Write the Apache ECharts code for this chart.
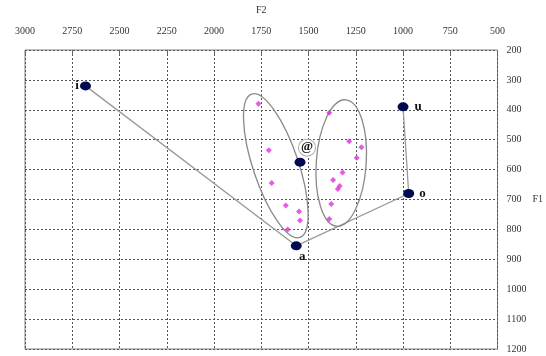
<!DOCTYPE html>
<html>
<head>
<meta charset="utf-8">
<script src="https://cdn.jsdelivr.net/npm/echarts@6/dist/echarts.min.js"></script>
<style>html,body{margin:0;padding:0;background:#fff;}#c{width:546px;height:356px;}</style>
</head>
<body>
<div id="c"></div>
<script>
// Axis ticks
const f2Ticks = [500, 750, 1000, 1250, 1500, 1750, 2000, 2250, 2500, 2750, 3000];
const f1Ticks = [200, 300, 400, 500, 600, 700, 800, 900, 1000, 1100, 1200];

// Reference vowels
const vowelLabels = ['i', 'u', 'o', 'a', '@'];
const vowelF2 = [2680, 1000, 970, 1565, 1545];
const vowelF1 = [320, 390, 680, 855, 575];
// Connecting path i -> a -> o -> u
const pathOrder = ['i', 'a', 'o', 'u'];

// Measured tokens (magenta)
const tokenF2 = [1765, 1710, 1695, 1620, 1550, 1545, 1610,
                 1390, 1285, 1220, 1245, 1320, 1370, 1335, 1345, 1380, 1390];
const tokenF1 = [380, 535, 645, 720, 740, 770, 800,
                 410, 505, 525, 560, 610, 635, 655, 665, 715, 765];

// Ellipses: center (F2, F1), half widths in F2 / F1 units, tilt in degrees
const ellipseCenterF2 = [1673, 1327];
const ellipseCenterF1 = [587, 578];
const ellipseHalfF2 = [120, 132];
const ellipseHalfF1 = [253, 212];
const ellipseTilt = [18.6, -4];

const labelPos = {
  i: {position: 'left', distance: 1},
  u: {position: 'right', distance: 6},
  o: {position: 'right', distance: 5},
  a: {position: 'bottom', offset: [6, -2], distance: 2},
  '@': {position: 'top', offset: [7, 2], distance: 4}
};

const vowelData = vowelLabels.map((n, k) => {
  const lp = labelPos[n];
  const item = {name: n, value: [vowelF2[k], vowelF1[k]], label: Object.assign({}, lp)};
  if (n === '@') {
    item.label.backgroundColor = '#fff';
    item.label.borderColor = '#aaa';
    item.label.borderWidth = 1;
    item.label.borderRadius = 9;
    item.label.padding = [1, 2, 2, 2];
  }
  return item;
});
const pathData = pathOrder.map(n => {
  const k = vowelLabels.indexOf(n);
  return [vowelF2[k], vowelF1[k]];
});
const tokenData = tokenF2.map((v, k) => [v, tokenF1[k]]);
const ellipseData = ellipseCenterF2.map((v, k) => [v, ellipseCenterF1[k], ellipseHalfF2[k], ellipseHalfF1[k], ellipseTilt[k]]);

const labelFont = {fontFamily: 'Liberation Serif, DejaVu Serif, serif', fontSize: 10, color: '#333'};
const gridLine = {show: true, lineStyle: {color: '#555', type: [2, 2], width: 1}};

const chart = echarts.init(document.getElementById('c'), null, {renderer: 'canvas'});
chart.setOption({
  animation: false,
  backgroundColor: '#fff',
  grid: {left: 25, right: 48, top: 49, bottom: 7, show: true, borderColor: '#808080', borderWidth: 1},
  xAxis: {
    type: 'value', position: 'top', inverse: true, min: f2Ticks[0], max: f2Ticks[f2Ticks.length - 1], interval: 250,
    name: 'F2', nameLocation: 'middle', nameGap: 35,
    nameTextStyle: labelFont,
    axisLine: {show: false},
    axisTick: {show: true, inside: true, length: 5, lineStyle: {color: '#666'}},
    axisLabel: Object.assign({margin: 14, formatter: v => String(v)}, labelFont),
    splitLine: gridLine
  },
  yAxis: {
    type: 'value', position: 'right', inverse: true, min: f1Ticks[0], max: f1Ticks[f1Ticks.length - 1], interval: 100,
    name: 'F1', nameLocation: 'middle', nameGap: 34, nameRotate: 0,
    nameTextStyle: Object.assign({align: 'left'}, labelFont),
    axisLine: {show: false},
    axisTick: {show: false},
    axisLabel: Object.assign({margin: 9, formatter: v => String(v)}, labelFont),
    splitLine: gridLine
  },
  series: [
    {
      type: 'line', data: pathData, symbol: 'none', z: 2,
      lineStyle: {color: '#999', width: 1.3}
    },
    {
      type: 'custom', z: 3,
      renderItem: function (params, api) {
        const c = api.coord([api.value(0), api.value(1)]);
        const rx = Math.abs(api.size([api.value(2), 0])[0]);
        const ry = Math.abs(api.size([0, api.value(3)])[1]);
        return {
          type: 'ellipse', x: c[0], y: c[1], rotation: api.value(4) * Math.PI / 180,
          shape: {cx: 0, cy: 0, rx: rx, ry: ry},
          style: {fill: 'none', stroke: '#8a8a8a', lineWidth: 1.3}
        };
      },
      data: ellipseData
    },
    {
      type: 'scatter', data: tokenData, symbol: 'diamond', symbolSize: 6, z: 4,
      itemStyle: {color: '#e030e0'}
    },
    {
      type: 'scatter', data: vowelData, symbol: 'circle', symbolSize: [11, 9], z: 5,
      itemStyle: {color: '#000a52', opacity: 1},
      label: {show: true, formatter: '{b}', fontFamily: 'Liberation Serif, DejaVu Serif, serif', fontWeight: 'bold', fontSize: 13, color: '#111'}
    }
  ]
});
</script>
</body>
</html>
